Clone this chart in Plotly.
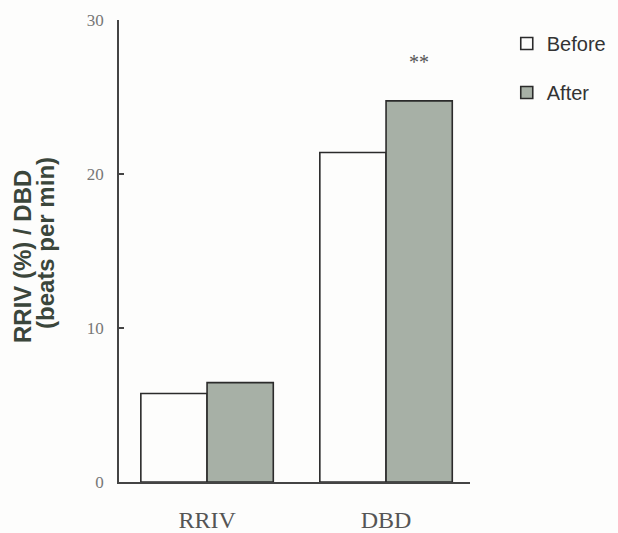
import plotly.graph_objects as go

categories = ["RRIV", "DBD"]
before_vals = [5.75, 21.4]
after_vals = [6.45, 24.75]
series_names = ["Before", "After"]
y_ticks = [0, 10, 20, 30]
sig_label = "**"
sig_category_index = 1
sig_y = 27.3

bargap = 0.26
line_col = "#2b2b2b"

fig = go.Figure()
fig.add_trace(go.Bar(
    x=categories, y=before_vals, name=series_names[0], legendgroup="b",
    marker=dict(color="#fdfdfc", line=dict(color=line_col, width=1.6)),
))
fig.add_trace(go.Bar(
    x=categories, y=after_vals, name=series_names[1], legendgroup="a",
    marker=dict(color="#a7b0a6", line=dict(color=line_col, width=1.6)),
))

offset = (1 - bargap) / 4
fig.add_annotation(
    x=sig_category_index + offset, y=sig_y, text=sig_label, showarrow=False,
    font=dict(family="Liberation Serif", size=20, color="#555"),
)

title_font = dict(family="Liberation Sans", size=24, color="#3b463b")
fig.add_annotation(
    xref="paper", yref="paper", x=0, y=0.5, xshift=-97, yshift=-6,
    text="<b>RRIV (%) / DBD</b>", textangle=-90, showarrow=False,
    xanchor="center", yanchor="middle", font=title_font,
)
fig.add_annotation(
    xref="paper", yref="paper", x=0, y=0.5, xshift=-74, yshift=8,
    text="<b>(beats per min)</b>", textangle=-90, showarrow=False,
    xanchor="center", yanchor="middle", font=title_font,
)

fig.update_layout(
    width=618, height=533,
    margin=dict(l=119, r=148, t=20, b=51),
    paper_bgcolor="#fdfdfc", plot_bgcolor="#fdfdfc",
    barmode="group", bargap=bargap, bargroupgap=0,
    showlegend=True,
    legend=dict(
        xref="container", yref="container",
        x=0.82, y=1 - 24 / 533, xanchor="left", yanchor="top",
        font=dict(family="Liberation Sans", size=20, color="#333"),
        bgcolor="rgba(0,0,0,0)", tracegroupgap=20, traceorder="grouped",
        borderwidth=0,
    ),
)
fig.update_xaxes(
    range=[-0.492, 1.469], showline=True, linecolor="#444", linewidth=1.5,
    ticks="", showgrid=False, zeroline=False, automargin=False,
    tickfont=dict(family="Liberation Serif", size=24, color="#555"),
    ticklabelstandoff=15,
)
fig.update_yaxes(
    range=[0, 30], tickvals=y_ticks, showline=True, linecolor="#444", linewidth=1.5,
    ticks="inside", ticklen=5, tickwidth=1.5, tickcolor="#444",
    showgrid=False, zeroline=False, automargin=False,
    tickfont=dict(family="Liberation Serif", size=17, color="#777"),
    ticklabelstandoff=10,
)

fig.write_html(
    "out.html",
    config={"displayModeBar": False},
    post_script="document.body.style.margin='0';document.body.style.overflow='hidden';",
)
